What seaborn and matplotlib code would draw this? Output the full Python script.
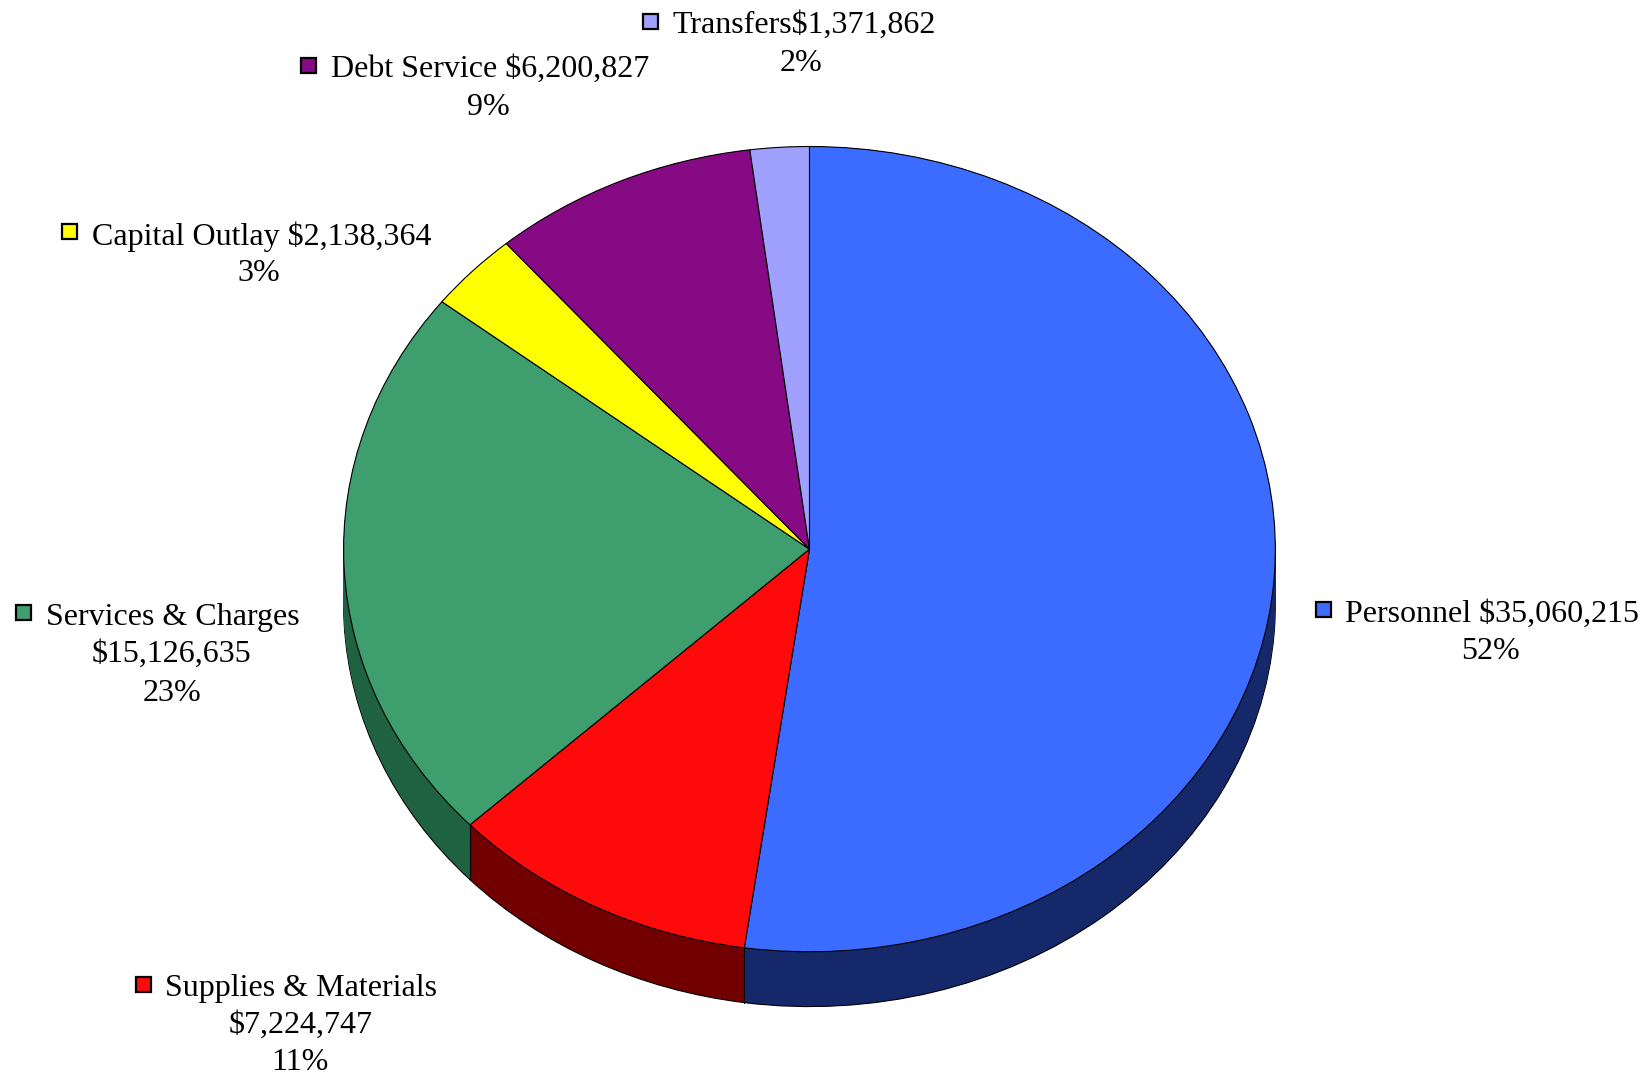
import numpy as np
import matplotlib
matplotlib.use("Agg")
import matplotlib.pyplot as plt
from matplotlib.patches import Rectangle
import seaborn as sns

# budget categories, drawn clockwise from 12 o'clock
categories = ["Personnel", "Supplies & Materials", "Services & Charges",
              "Capital Outlay", "Debt Service", "Transfers"]
amounts = [35060215, 7224747, 15126635, 2138364, 6200827, 1371862]
top_colors = ["#3C6CFF", "#FF0A0A", "#3E9E6E", "#FFFF00", "#860A84", "#A0A0FF"]
side_colors = ["#15286A", "#720000", "#1F6242", "#8A8A00", "#460046", "#5555A0"]

sns.set_theme(style="white")
plt.rcParams["font.family"] = ["Liberation Serif", "DejaVu Serif"]

W, H = 1652, 1075
S = 1.054  # layout measured on a 1568 px wide view
fig = plt.figure(figsize=(W / 100, H / 100), dpi=100)
ax = fig.add_axes([0, 0, 1, 1])

# ellipse geometry in pixels
cx, cy, rx, ry, depth_px = 768 * S, 521 * S, 442 * S, 382 * S, 52 * S
depth = depth_px / ry

# side of the "3d" pie: stacked copies shifted downward
offsets = np.linspace(depth, 0.0, 40)
for i, off in enumerate(offsets):
    ax.pie(amounts, colors=side_colors, startangle=90, counterclock=False,
           center=(0, -off), radius=1, frame=True,
           wedgeprops=dict(edgecolor="black" if i == 0 else "none", linewidth=0.8))

# vertical edges on the side where wedge boundaries are on the lower half
frac = np.cumsum([0] + amounts) / sum(amounts)
for f in frac:
    th = np.deg2rad(90 - 360 * f)
    x, y = np.cos(th), np.sin(th)
    if y < 0:
        ax.plot([x, x], [y, y - depth], color="black", lw=0.8)

# top face
ax.pie(amounts, colors=top_colors, startangle=90, counterclock=False,
       center=(0, 0), radius=1, frame=True,
       wedgeprops=dict(edgecolor="black", linewidth=0.8))

ax.set_aspect("auto")
ax.set_xlim(-cx / rx, (W - cx) / rx)
ax.set_ylim(-(H - cy) / ry, cy / ry)
ax.axis("off")

pct = [a / sum(amounts) * 100 for a in amounts]
money = ["${:,}".format(a) for a in amounts]


def fx(px):
    return px * S / W


def fy(py):
    return 1 - py * S / H


FS = 23


def key(px, py, color):
    s = 15
    fig.add_artist(Rectangle((fx(px) - s / 2 / W, fy(py) - s / 2 / H), s / W, s / H,
                             transform=fig.transFigure, facecolor=color,
                             edgecolor="black", linewidth=1.6))


def line(px, py, txt, ha="left"):
    fig.text(fx(px), fy(py + 10), txt, ha=ha, va="baseline", fontsize=FS, color="black")


# Personnel
key(1256, 578, top_colors[0])
line(1276, 580, f"{categories[0]} {money[0]}")
line(1414, 615, f"{pct[0]:.0f}%", ha="center")
# Supplies & Materials
key(136, 934, top_colors[1])
line(157, 935, categories[1])
line(285, 970, money[1], ha="center")
line(285, 1005, f"{pct[1]:.0f}%", ha="center")
# Services & Charges
key(22, 581, top_colors[2])
line(44, 583, categories[2])
line(163, 618, money[2], ha="center")
line(163, 655, f"{pct[2]:.0f}%", ha="center")
# Capital Outlay
key(66, 220, top_colors[3])
line(87, 222, f"{categories[3]} {money[3]}")
line(246, 257, f"{pct[3]:.0f}%", ha="center")
# Debt Service
key(293, 62, top_colors[4])
line(314, 63, f"{categories[4]} {money[4]}")
line(463, 99, f"{pct[4]:.0f}%", ha="center")
# Transfers
key(617, 20, top_colors[5])
line(638, 21, f"{categories[5]}{money[5]}")
line(760, 57, f"{pct[5]:.0f}%", ha="center")

fig.savefig("out.png", dpi=100)
